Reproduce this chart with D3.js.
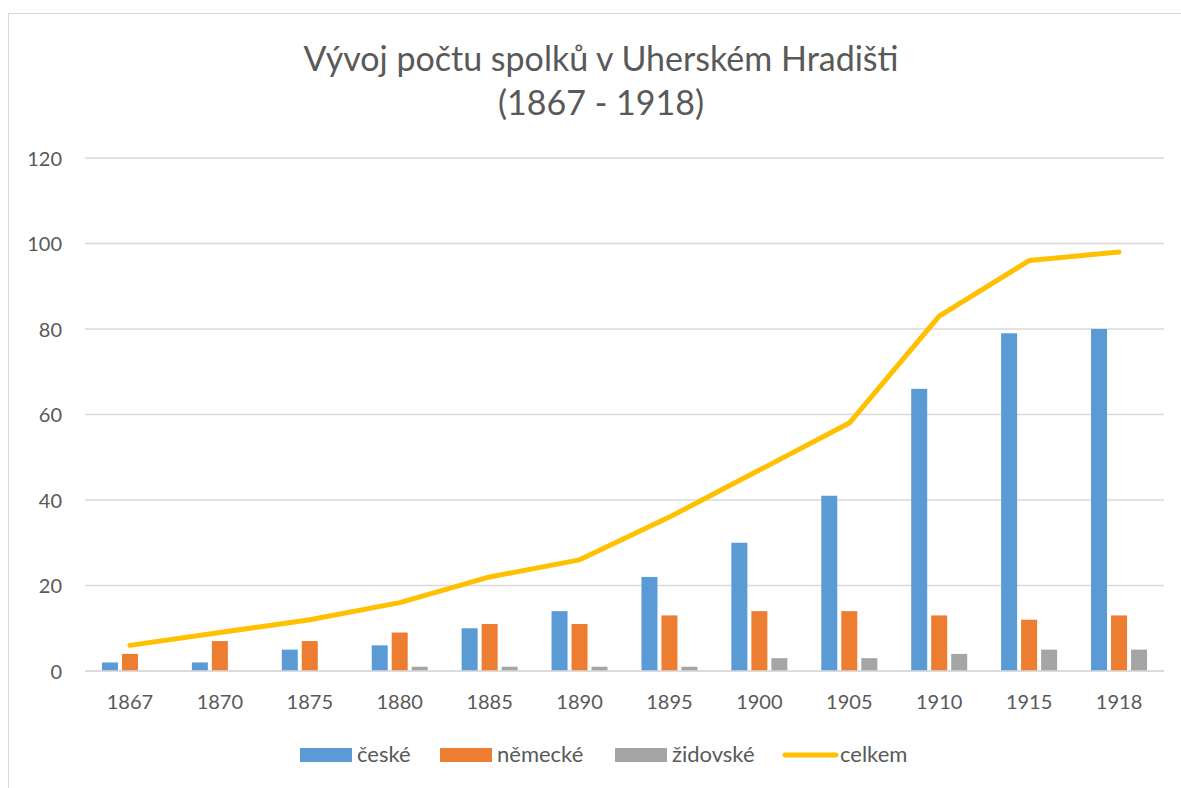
<!DOCTYPE html>
<html>
<head>
<meta charset="utf-8">
<script src="https://cdn.jsdelivr.net/npm/d3@7"></script>
<style>
  body { margin: 0; background: #fff; }
  svg text { font-family: Lato, "Noto Sans", sans-serif; fill: #595959; }
</style>
</head>
<body>
<svg id="chart" width="1181" height="788"></svg>
<script>
// データ
var years = ["1867", "1870", "1875", "1880", "1885", "1890", "1895", "1900", "1905", "1910", "1915", "1918"];
var ceske = [2, 2, 5, 6, 10, 14, 22, 30, 41, 66, 79, 80];
var nemecke = [4, 7, 7, 9, 11, 11, 13, 14, 14, 13, 12, 13];
var zidovske = [0, 0, 0, 1, 1, 1, 1, 3, 3, 4, 5, 5];
var celkem = [6, 9, 12, 16, 22, 26, 36, 47, 58, 83, 96, 98];
var yTicks = [0, 20, 40, 60, 80, 100, 120];
var seriesNames = ["české", "německé", "židovské", "celkem"];
var colors = ["#5b9bd5", "#ed7d31", "#a5a5a5", "#ffc000"];

var svg = d3.select("#chart");

// 枠
svg.append("rect")
	.attr("x", 8.5).attr("y", 13.5)
	.attr("width", 1190).attr("height", 790)
	.attr("fill", "none").attr("stroke", "#d9d9d9");

// タイトル
svg.append("text").attr("x", 601).attr("y", 71)
	.attr("text-anchor", "middle").style("font-size", "34px")
	.text("Vývoj počtu spolků v Uherském Hradišti");
svg.append("text").attr("x", 601).attr("y", 115)
	.attr("text-anchor", "middle").style("font-size", "34px")
	.text("(1867 - 1918)");

var plotLeft = 85, plotRight = 1164, plotTop = 158, plotBottom = 671;

var x = d3.scaleBand().domain(years).range([plotLeft, plotRight]);
var y = d3.scaleLinear().domain([0, 120]).range([plotBottom, plotTop]);

// グリッド線
svg.append("g")
	.selectAll("line")
	.data(yTicks)
	.enter()
	.append("line")
	.attr("x1", plotLeft).attr("x2", plotRight)
	.attr("y1", function(d){ return y(d); })
	.attr("y2", function(d){ return y(d); })
	.attr("stroke", "#d9d9d9").attr("stroke-width", 1.3);

// Y軸ラベル
var yAxis = d3.axisLeft(y).tickValues(yTicks).tickSize(0).tickPadding(0);
var gy = svg.append("g").attr("transform", "translate(62,0)").call(yAxis);
gy.select(".domain").remove();
gy.selectAll("text").style("font-size", "20px").attr("dy", "0.35em");

// X軸ラベル
var xAxis = d3.axisBottom(x).tickSize(0).tickPadding(0);
var gx = svg.append("g").attr("transform", "translate(0," + plotBottom + ")").call(xAxis);
gx.select(".domain").remove();
gx.selectAll("text").style("font-size", "20px").attr("dy", "0").attr("y", 38);

// 棒グラフ
var barW = 16, barGap = 4;
var barData = [ceske, nemecke, zidovske];
barData.forEach(function(values, s){
	svg.append("g")
		.selectAll("rect")
		.data(values)
		.enter()
		.append("rect")
		.attr("x", function(d, i){
			return x(years[i]) + x.bandwidth() / 2 - 1.5 * barW - barGap + s * (barW + barGap);
		})
		.attr("y", function(d){ return y(d); })
		.attr("width", barW)
		.attr("height", function(d){ return plotBottom - y(d); })
		.attr("fill", colors[s]);
});

// 軸線
svg.append("line")
	.attr("x1", plotLeft).attr("x2", plotRight)
	.attr("y1", plotBottom).attr("y2", plotBottom)
	.attr("stroke", "#d9d9d9").attr("stroke-width", 1.5);

// 折れ線
var line = d3.line()
	.x(function(d, i){ return x(years[i]) + x.bandwidth() / 2; })
	.y(function(d){ return y(d); });
svg.append("path")
	.datum(celkem)
	.attr("d", line)
	.attr("fill", "none")
	.attr("stroke", colors[3])
	.attr("stroke-width", 5)
	.attr("stroke-linecap", "round")
	.attr("stroke-linejoin", "round");

// 凡例
var legendX = [300, 440, 615, 783];
var legend = svg.append("g");
seriesNames.forEach(function(name, i){
	if (i < 3) {
		legend.append("rect")
			.attr("x", legendX[i]).attr("y", 748)
			.attr("width", 52).attr("height", 14)
			.attr("fill", colors[i]);
	} else {
		legend.append("line")
			.attr("x1", legendX[i] + 2).attr("x2", legendX[i] + 53)
			.attr("y1", 755).attr("y2", 755)
			.attr("stroke", colors[i]).attr("stroke-width", 5)
			.attr("stroke-linecap", "round");
	}
	legend.append("text")
		.attr("x", legendX[i] + 57).attr("y", 762)
		.style("font-size", "22px")
		.text(name);
});
</script>
</body>
</html>
